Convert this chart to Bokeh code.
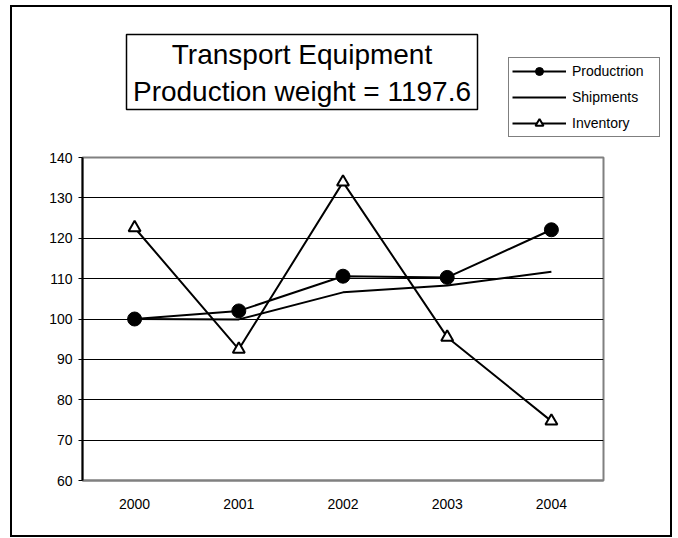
from bokeh.plotting import figure
from bokeh.models import Label, Legend, LegendItem, FixedTicker, BoxAnnotation
from bokeh.embed import file_html
from bokeh.resources import INLINE

years = ["2000", "2001", "2002", "2003", "2004"]
production = [100.0, 102.0, 110.6, 110.3, 122.1]
shipments = [100.0, 99.9, 106.6, 108.3, 111.7]
inventory = [122.6, 92.5, 133.9, 95.5, 74.7]
y_ticks = [60, 70, 80, 90, 100, 110, 120, 130, 140]
title_lines = ["Transport Equipment", "Production weight = 1197.6"]
series_names = ["Productrion", "Shipments", "Inventory"]

FONT = "Liberation Sans"
W = 662

# ---------------- header (title box + legend) ----------------
header = figure(width=W, height=140, x_range=(0, W), y_range=(0, 140),
                output_backend="svg", toolbar_location=None,
                min_border=0, min_border_left=0, min_border_right=0,
                min_border_top=0, min_border_bottom=0)
header.axis.visible = False
header.grid.grid_line_color = None
header.outline_line_color = None
header.background_fill_alpha = 0
header.border_fill_alpha = 0
header.styles = {"margin-left": "10px", "margin-top": "5px",
                 "box-shadow": "inset 2px 0 0 0 black, inset -2px 0 0 0 black, inset 0 2px 0 0 black"}

box = BoxAnnotation(left=116, right=467, bottom=36, top=111,
                    fill_color="white", fill_alpha=1,
                    line_color="black", line_alpha=1, line_width=1.5)
header.add_layout(box)
header.add_layout(Label(x=291.5, y=91, text=title_lines[0], text_align="center",
                        text_baseline="middle", text_font=FONT,
                        text_font_size="28px", text_color="black"))
header.add_layout(Label(x=291.5, y=54, text=title_lines[1], text_align="center",
                        text_baseline="middle", text_font=FONT,
                        text_font_size="28px", text_color="black"))

# legend proxies: the series' first points, placed off-canvas (x < 0) so only legend glyphs show
off_x = [-50]
h1 = header.line(off_x, production[:1], line_color="black", line_width=2)
hm1 = header.scatter(off_x, production[:1], marker="circle", size=14,
                     fill_color="black", line_color="black")
h2 = header.line(off_x, shipments[:1], line_color="black", line_width=2)
h3 = header.line(off_x, inventory[:1], line_color="black", line_width=2)
hm3 = header.scatter(off_x, inventory[:1], marker="triangle", size=12,
                     fill_color="white", line_color="black", line_width=2)

legend = Legend(items=[
    LegendItem(label=series_names[0], renderers=[h1, hm1]),
    LegendItem(label=series_names[1], renderers=[h2]),
    LegendItem(label=series_names[2], renderers=[h3, hm3]),
], location=(498, 8))
legend.border_line_color = "black"
legend.border_line_width = 1.5
legend.background_fill_color = "white"
legend.background_fill_alpha = 1
legend.padding = 3
legend.spacing = 6
legend.margin = 0
legend.glyph_width = 54
legend.glyph_height = 20
legend.label_height = 20
legend.label_width = 84
legend.label_standoff = 6
legend.label_text_font = FONT
legend.label_text_font_size = "14px"
legend.label_text_color = "black"
header.add_layout(legend, "center")

# ---------------- main plot ----------------
p = figure(width=W, height=392, x_range=years, y_range=(60, 140),
           output_backend="svg", toolbar_location=None,
           min_border_left=72, min_border_right=69,
           min_border_top=12, min_border_bottom=57)
p.styles = {"margin-left": "10px",
            "box-shadow": "inset 2px 0 0 0 black, inset -2px 0 0 0 black, inset 0 -2px 0 0 black"}

p.background_fill_color = "white"
p.border_fill_alpha = 0
p.outline_line_color = "#808080"
p.outline_line_width = 2

p.xgrid.grid_line_color = None
p.ygrid.grid_line_color = "black"
p.ygrid.grid_line_width = 1

p.yaxis.ticker = FixedTicker(ticks=y_ticks)
p.yaxis.axis_line_color = "black"
p.yaxis.axis_line_width = 2
p.yaxis.major_tick_out = 4
p.yaxis.major_tick_in = 0
p.yaxis.minor_tick_line_color = None
p.yaxis.major_label_standoff = 6
p.yaxis.major_label_text_font = FONT
p.yaxis.major_label_text_font_size = "14px"
p.yaxis.major_label_text_color = "black"

p.xaxis.axis_line_color = "#808080"
p.xaxis.axis_line_width = 2
p.xaxis.major_tick_line_color = None
p.xaxis.major_label_standoff = 12
p.xaxis.major_label_text_font = FONT
p.xaxis.major_label_text_font_size = "14px"
p.xaxis.major_label_text_color = "black"

p.line(years, production, line_color="black", line_width=2)
p.scatter(years, production, marker="circle", size=14,
          fill_color="black", line_color="black")
p.line(years, shipments, line_color="black", line_width=2)
p.line(years, inventory, line_color="black", line_width=2)
p.scatter(years, inventory, marker="triangle", size=12,
          fill_color="white", line_color="black", line_width=2)

open("out.html", "w").write(file_html([header, p], INLINE))
